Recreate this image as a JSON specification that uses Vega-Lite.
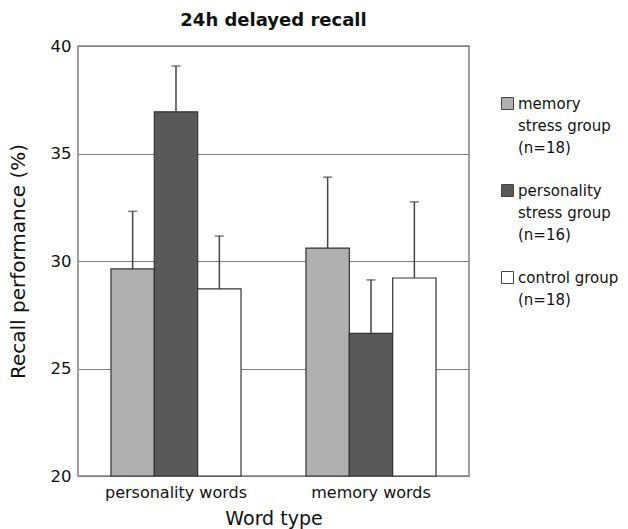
{
  "$schema": "https://vega.github.io/schema/vega-lite/v6.json",
  "width": 391,
  "height": 430,
  "autosize": {"type": "none"},
  "padding": {"left": 78, "top": 46, "right": 159, "bottom": 53},
  "config": {
    "font": "DejaVu Sans",
    "view": {"stroke": "#808080", "strokeWidth": 1.5}
  },
  "title": {
    "text": "24h delayed recall",
    "font": "DejaVu Sans",
    "fontSize": 18,
    "fontWeight": "bold",
    "color": "#111111",
    "anchor": "middle",
    "offset": 8
  },
  "data": {
    "values": [
      {"word": "personality words", "group": "memory stress group (n=18)", "mean": 29.63, "upper": 32.31},
      {"word": "personality words", "group": "personality stress group (n=16)", "mean": 36.94, "upper": 39.07},
      {"word": "personality words", "group": "control group (n=18)", "mean": 28.7, "upper": 31.16},
      {"word": "memory words", "group": "memory stress group (n=18)", "mean": 30.6, "upper": 33.9},
      {"word": "memory words", "group": "personality stress group (n=16)", "mean": 26.63, "upper": 29.12},
      {"word": "memory words", "group": "control group (n=18)", "mean": 29.21, "upper": 32.75}
    ]
  },
  "encoding": {
    "x": {
      "field": "word",
      "type": "nominal",
      "sort": ["personality words", "memory words"],
      "scale": {"paddingInner": 0.333, "paddingOuter": 0.169},
      "axis": {
        "title": "Word type",
        "labelAngle": 0,
        "ticks": false,
        "domain": false,
        "labelFontSize": 16,
        "labelColor": "#111111",
        "labelPadding": 8,
        "titleFontSize": 19,
        "titleFontWeight": "normal",
        "titleColor": "#111111",
        "titlePadding": 9
      }
    },
    "xOffset": {
      "field": "group",
      "type": "nominal",
      "sort": ["memory stress group (n=18)", "personality stress group (n=16)", "control group (n=18)"]
    }
  },
  "layer": [
    {
      "mark": {"type": "bar", "stroke": "#333333", "strokeWidth": 1.2},
      "encoding": {
        "y": {
          "field": "mean",
          "type": "quantitative",
          "scale": {"domain": [20, 40], "nice": false, "zero": false},
          "axis": {
            "title": "Recall performance (%)",
            "values": [20, 25, 30, 35, 40],
            "grid": true,
            "gridColor": "#808080",
            "gridWidth": 1,
            "ticks": false,
            "domain": false,
            "labelFontSize": 16.5,
            "labelColor": "#111111",
            "labelPadding": 7,
            "titleFontSize": 20,
            "titleFontWeight": "normal",
            "titleColor": "#111111",
            "titlePadding": 22
          }
        },
        "y2": {"datum": 20},
        "fill": {
          "field": "group",
          "type": "nominal",
          "sort": ["memory stress group (n=18)", "personality stress group (n=16)", "control group (n=18)"],
          "scale": {
            "domain": ["memory stress group (n=18)", "personality stress group (n=16)", "control group (n=18)"],
            "range": ["#b0b0b0", "#595959", "#ffffff"]
          },
          "legend": {
            "title": null,
            "orient": "none",
            "legendX": 422,
            "legendY": 50,
            "padding": 0,
            "symbolType": "square",
            "symbolSize": 144,
            "symbolStrokeColor": "#444444",
            "symbolStrokeWidth": 1,
            "labelFontSize": 15,
            "labelColor": "#111111",
            "labelOffset": 3,
            "labelLimit": 300,
            "rowPadding": 26,
            "labelExpr": "datum.label == 'memory stress group (n=18)' ? ['memory', 'stress group', '(n=18)'] : datum.label == 'personality stress group (n=16)' ? ['personality', 'stress group', '(n=16)'] : ['control group', '(n=18)']",
            "encode": {"labels": {"update": {"lineHeight": {"value": 22}}}}
          }
        }
      }
    },
    {
      "mark": {"type": "rule", "color": "#444444", "strokeWidth": 1.5},
      "encoding": {
        "y": {"field": "mean", "type": "quantitative"},
        "y2": {"field": "upper"}
      }
    },
    {
      "mark": {"type": "tick", "color": "#444444", "thickness": 1.5, "size": 9},
      "encoding": {
        "y": {"field": "upper", "type": "quantitative"}
      }
    }
  ]
}
